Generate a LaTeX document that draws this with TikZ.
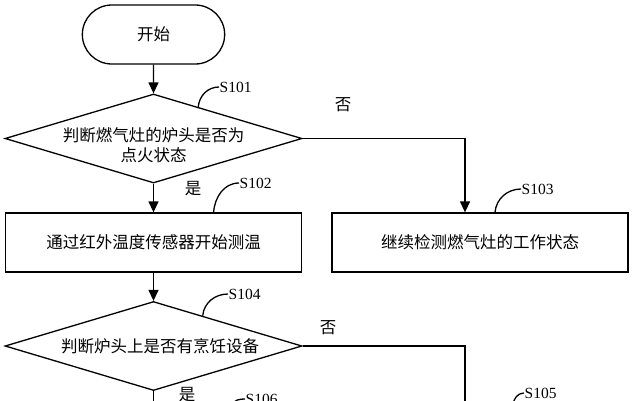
\documentclass[tikz,border=0pt]{standalone}
\usepackage{fontspec}
\setmainfont{Liberation Serif}
\newfontfamily\cjk{Noto Sans CJK SC}
\usetikzlibrary{positioning, arrows.meta, calc, shapes.geometric, shapes.misc}

\begin{document}
\begin{tikzpicture}[x=1pt, y=-1pt, line width=1.3pt, >={Triangle[length=11pt,width=10pt]}]
                \tikzstyle{startstop} = [rounded rectangle, draw, minimum width=149pt, minimum height=59pt, font=\cjk\fontsize{16.5}{20}\selectfont]
                \tikzstyle{decision} = [diamond, draw, minimum width=297pt, minimum height=89pt, inner sep=0pt]
                \tikzstyle{process} = [rectangle, draw, minimum width=296pt, minimum height=59pt, font=\cjk\fontsize{16.5}{20}\selectfont]
                \tikzstyle{txt} = [font=\cjk\fontsize{16.5}{20}\selectfont, align=center, inner sep=0pt]
                \tikzstyle{steplabel} = [font=\fontsize{15.5}{18}\selectfont, anchor=west, inner sep=0pt]

                \useasboundingbox (0,0) rectangle (634,400);
                \clip (0,0) rectangle (634,400);

                % Flow nodes (left column)
                \node[startstop] (start) at (153.5,34.5) {开始};
                \node[decision] (d1) at (153.5,138.5) {};
                \node[txt] (t1) at (153.5,145) {判断燃气灶的炉头是否为\\点火状态};
                \node[process] (b1) at (153.5,242.5) {通过红外温度传感器开始测温};
                \node[decision] (d2) at (153.5,346) {};
                \node[txt] (t2) at (160,346) {判断炉头上是否有烹饪设备};

                % Flow nodes (right column)
                \node[process] (b2) at (480,242.5) {继续检测燃气灶的工作状态};

                % Branch texts
                \node[txt] (yes1) at (193,189) {是};
                \node[txt] (no1) at (343,105) {否};
                \node[txt] (no2) at (328,328) {否};
                \node[txt] (yes2) at (187,395) {是};

                % Loose ends below the page
                \coordinate (bot1) at (153.5,410);
                \coordinate (bot2) at (465,410);

                % Step labels
                \node[steplabel] (l101) at (219,87) {S101};
                \node[steplabel] (l102) at (239,183) {S102};
                \node[steplabel] (l103) at (521,189) {S103};
                \node[steplabel] (l104) at (228,294) {S104};
                \node[steplabel] (l106) at (245,399) {S106};
                \node[steplabel] (l105) at (524,393) {S105};
                \coordinate (c101) at ($(d1.north)!0.3!(d1.east)$);
                \coordinate (c102) at ([xshift=60pt]b1.north);
                \coordinate (c103) at ([xshift=15pt]b2.north);
                \coordinate (c104) at ($(d2.north)!0.33!(d2.east)$);
                \coordinate (c106) at (233,405);
                \coordinate (c105) at (513,405);

                \draw[->] (start) -- (d1);
                \draw[->] (d1) -- (b1);
                \draw[->] (d1.east) -| ([xshift=-15pt]b2.north);
                \draw[->] (b1) -- (d2);
                \draw (d2) -- (bot1);
                \draw (d2.east) -| (bot2);

                \draw (c101) to[out=85, in=180] (l101.west);
                \draw (c102) to[out=85, in=180] (l102.west);
                \draw (c103) to[out=85, in=180] (l103.west);
                \draw (c104) to[out=85, in=180] (l104.west);
                \draw (c106) to[out=85, in=180] (l106.west);
                \draw (c105) to[out=85, in=180] (l105.west);
\end{tikzpicture}
\end{document}
